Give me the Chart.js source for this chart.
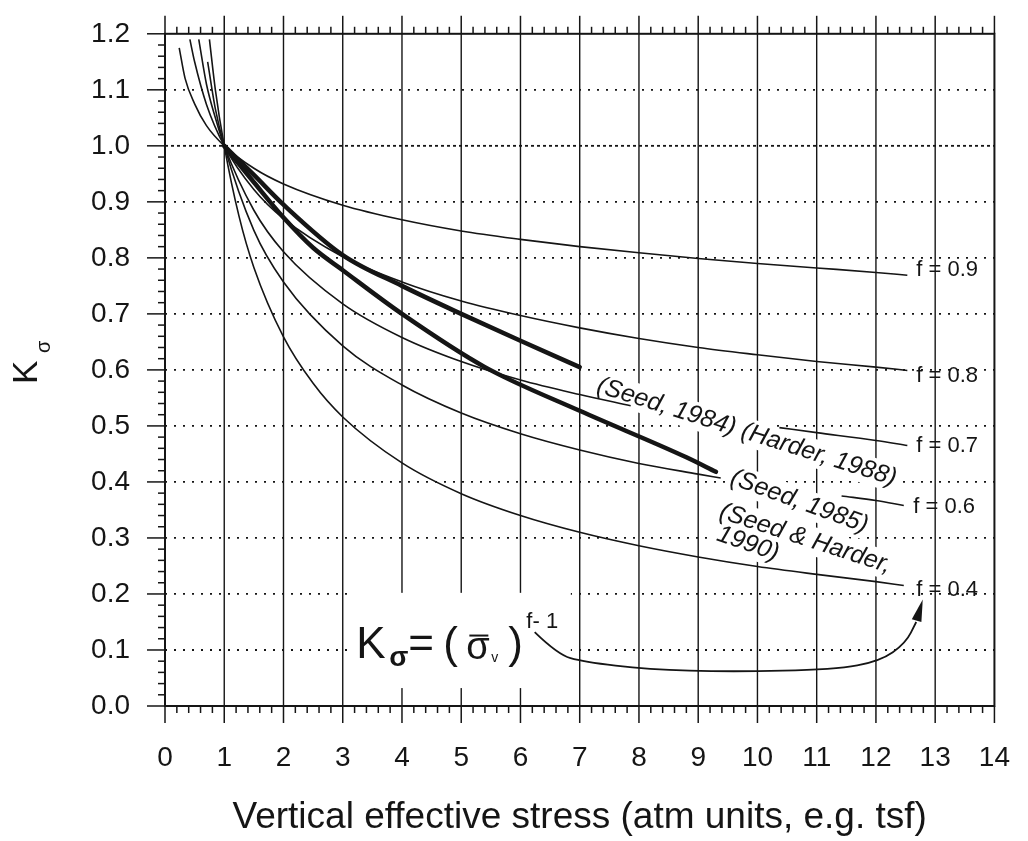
<!DOCTYPE html>
<html>
<head>
<meta charset="utf-8">
<title>K sigma vs vertical effective stress</title>
<script src="https://cdn.jsdelivr.net/npm/chart.js@4.4.1/dist/chart.umd.min.js"></script>
<style>
  html, body { margin: 0; padding: 0; background: #fff; }
  canvas { display: block; }
</style>
</head>
<body>
<canvas id="kChart" width="1028" height="841"></canvas>
<script>
// axis ticks
const stressTicks = [0, 1, 2, 3, 4, 5, 6, 7, 8, 9, 10, 11, 12, 13, 14];
const kTicks = [0, 0.1, 0.2, 0.3, 0.4, 0.5, 0.6, 0.7, 0.8, 0.9, 1.0, 1.1, 1.2];

// thin curves (null = line hidden behind a label)
const f09Stress = [0.24, 0.34, 0.5, 0.7, 1, 1.5, 2, 3, 4, 5, 6, 7, 8, 9, 10, 11, 12, 12.53];
const f09K = [1.175, 1.12, 1.075, 1.036, 1.0, 0.96, 0.932, 0.894, 0.868, 0.848, 0.833, 0.82, 0.809, 0.799, 0.79, 0.782, 0.774, 0.769];

const f08Stress = [0.42, 0.5, 0.7, 1, 1.5, 2, 3, 4, 5, 6, 7, 8, 9, 10, 11, 12, 12.53];
const f08K = [1.19, 1.15, 1.074, 1.0, 0.922, 0.87, 0.802, 0.757, 0.723, 0.697, 0.675, 0.656, 0.64, 0.627, 0.615, 0.605, 0.599];

const f07Stress = [0.57, 0.7, 0.85, 1, 1.5, 2, 3, 4, 5, 6, 7, 7.86, 9, 10.37, 11, 12, 12.53];
const f07K = [1.19, 1.11, 1.05, 1.0, 0.885, 0.811, 0.718, 0.658, 0.615, 0.582, 0.556, 0.536, null, 0.497, 0.488, 0.474, 0.465];

const f06Stress = [0.72, 0.85, 1, 1.5, 2, 3, 4, 5, 6, 7, 8, 9, 9.38, 10.4, 11.42, 12, 12.47];
const f06K = [1.15, 1.066, 1.0, 0.849, 0.757, 0.643, 0.573, 0.523, 0.486, 0.457, 0.433, 0.414, 0.407, null, 0.375, 0.367, 0.358];

const f04Stress = [0.75, 0.85, 1, 1.25, 1.5, 2, 2.5, 3, 4, 5, 6, 7, 8, 9, 10, 11, 12, 12.47];
const f04K = [1.19, 1.1, 1.0, 0.874, 0.783, 0.659, 0.576, 0.516, 0.434, 0.379, 0.34, 0.31, 0.286, 0.266, 0.249, 0.235, 0.222, 0.215];

// thick curves
const seed84Stress = [1, 1.5, 2, 3, 4, 5, 6, 7];
const seed84K = [1.0, 0.948, 0.895, 0.805, 0.75, 0.7, 0.652, 0.605];

const seed85Stress = [1, 1.5, 2, 2.5, 3, 4, 5.4, 7, 8.8, 9.3];
const seed85K = [1.0, 0.935, 0.872, 0.818, 0.778, 0.7, 0.605, 0.527, 0.444, 0.418];

const FONT = '"Liberation Sans", Arial, Helvetica, sans-serif';
const INK = '#151515';

function toPoints(xs, ys) {
    return xs.map((x, i) => ({ x: x, y: ys[i] }));
}

function thinLine(xs, ys) {
    return {
        data: toPoints(xs, ys),
        borderColor: INK,
        borderWidth: 1.6,
        cubicInterpolationMode: 'monotone',
        pointRadius: 0,
        fill: false
    };
}

function thickLine(xs, ys) {
    return {
        data: toPoints(xs, ys),
        borderColor: INK,
        borderWidth: 4.5,
        cubicInterpolationMode: 'monotone',
        borderJoinStyle: 'round',
        borderCapStyle: 'round',
        pointRadius: 0,
        fill: false
    };
}

function seg(ctx, x1, y1, x2, y2) {
    ctx.beginPath();
    ctx.moveTo(x1, y1);
    ctx.lineTo(x2, y2);
    ctx.stroke();
}

// grid, frame and tick marks
const framePlugin = {
    id: 'frame',
    beforeDatasetsDraw(chart) {
        const { ctx, chartArea: a, scales: { x, y } } = chart;
        ctx.save();
        ctx.strokeStyle = INK;

        // dotted horizontal grid
        ctx.lineWidth = 1.8;
        kTicks.forEach(v => {
            if (v <= 0 || v >= 1.2) return;
            const py = y.getPixelForValue(v);
            ctx.setLineDash(v === 1.0 ? [3, 3] : [2, 7]);
            seg(ctx, a.left, py, a.right, py);
        });
        ctx.setLineDash([]);

        // solid vertical grid
        ctx.lineWidth = 1.4;
        stressTicks.forEach(v => {
            if (v <= 0 || v >= 14) return;
            const px = x.getPixelForValue(v);
            seg(ctx, px, a.top, px, a.bottom);
        });

        // tick marks: bottom and top every 0.2, left every 0.02
        ctx.lineWidth = 1.5;
        for (let i = 0; i <= 70; i++) {
            const px = x.getPixelForValue(i / 5);
            const major = i % 5 === 0;
            seg(ctx, px, a.bottom, px, a.bottom + (major ? 17 : 7));
            seg(ctx, px, a.top, px, a.top - (major ? 18 : 7));
        }
        for (let i = 0; i <= 60; i++) {
            const py = y.getPixelForValue(i / 50);
            const major = i % 5 === 0;
            seg(ctx, a.left, py, a.left - (major ? 18 : 7), py);
        }

        ctx.lineWidth = 2;
        ctx.strokeRect(a.left, a.top, a.right - a.left, a.bottom - a.top);
        ctx.restore();
    }
};

// labels, formula and arrow
const notesPlugin = {
    id: 'notes',
    tags: [
        { text: 'f = 0.9', x: 12.68, y: 0.778 },
        { text: 'f = 0.8', x: 12.68, y: 0.59 },
        { text: 'f = 0.7', x: 12.68, y: 0.464 },
        { text: 'f = 0.6', x: 12.63, y: 0.355 },
        { text: 'f = 0.4', x: 12.68, y: 0.208 }
    ],
    slants: [
        { text: '(Seed, 1984) (Harder, 1988)', x: 7.3, y: 0.573, angle: 17.5 },
        { text: '(Seed, 1985)', x: 9.56, y: 0.409, angle: 20 },
        { text: '(Seed & Harder,', x: 9.37, y: 0.348, angle: 18 },
        { text: '1990)', x: 9.33, y: 0.308, angle: 19 }
    ],
    formulaBox: { x0: 3.1, x1: 6.85, y0: 0.032, y1: 0.202 },
    formulaAt: { x: 3.23, y: 0.0865 },
    arrow: [[6.24, 0.132], [6.63, 0.092], [7.06, 0.079], [8.15, 0.065], [9.56, 0.061],
            [11.3, 0.065], [12.07, 0.08], [12.5, 0.112], [12.68, 0.15]],
    arrowTip: [12.79, 0.19],

    slantText(ctx, chart, n, background) {
        const px = chart.scales.x.getPixelForValue(n.x);
        const py = chart.scales.y.getPixelForValue(n.y);
        ctx.save();
        ctx.translate(px, py);
        ctx.rotate(n.angle * Math.PI / 180);
        ctx.font = 'italic 25px ' + FONT;
        ctx.textAlign = 'left';
        ctx.textBaseline = 'middle';
        if (background) {
            const w = ctx.measureText(n.text).width;
            ctx.fillStyle = '#fff';
            ctx.fillRect(-3, -14, w + 6, 28);
        } else {
            ctx.fillStyle = INK;
            ctx.fillText(n.text, 0, 0);
        }
        ctx.restore();
    },

    beforeDatasetsDraw(chart) {
        const { ctx, scales: { x, y } } = chart;
        ctx.save();
        this.slants.forEach(n => this.slantText(ctx, chart, n, true));
        const b = this.formulaBox;
        const bx = x.getPixelForValue(b.x0), by = y.getPixelForValue(b.y1);
        ctx.fillStyle = '#fff';
        ctx.fillRect(bx, by, x.getPixelForValue(b.x1) - bx, y.getPixelForValue(b.y0) - by);
        ctx.restore();
    },

    afterDatasetsDraw(chart) {
        const { ctx, scales: { x, y } } = chart;
        ctx.save();
        ctx.fillStyle = INK;
        ctx.strokeStyle = INK;

        // f = ... tags
        ctx.font = '22px ' + FONT;
        ctx.textAlign = 'left';
        ctx.textBaseline = 'middle';
        this.tags.forEach(t => ctx.fillText(t.text, x.getPixelForValue(t.x), y.getPixelForValue(t.y)));

        // slanted source labels
        this.slants.forEach(n => this.slantText(ctx, chart, n, false));

        // K_sigma = (sigma_v)^(f-1)
        const fx = x.getPixelForValue(this.formulaAt.x);
        const fy = y.getPixelForValue(this.formulaAt.y);
        const pieces = [
            { t: 'K', dx: 0, dy: 0, font: '44px ' + FONT },
            { t: 'σ', dx: 33, dy: 8, font: 'bold 28px ' + FONT },
            { t: '=', dx: 52, dy: 0, font: '44px ' + FONT },
            { t: '(', dx: 87, dy: 0, font: '44px ' + FONT },
            { t: 'σ', dx: 110, dy: 1, font: '38px ' + FONT },
            { t: 'v', dx: 135, dy: 4, font: '14px ' + FONT },
            { t: ')', dx: 152, dy: 0, font: '44px ' + FONT },
            { t: 'f- 1', dx: 170, dy: -30, font: '22px ' + FONT }
        ];
        ctx.textBaseline = 'alphabetic';
        pieces.forEach(p => {
            ctx.font = p.font;
            ctx.fillText(p.t, fx + p.dx, fy + p.dy);
        });
        ctx.lineWidth = 2;
        seg(ctx, fx + 113, fy - 22, fx + 132, fy - 22);

        // curved arrow to the f = 0.4 tag
        const pts = this.arrow.map(p => [x.getPixelForValue(p[0]), y.getPixelForValue(p[1])]);
        const tip = [x.getPixelForValue(this.arrowTip[0]), y.getPixelForValue(this.arrowTip[1])];
        ctx.lineWidth = 1.8;
        ctx.beginPath();
        ctx.moveTo(pts[0][0], pts[0][1]);
        for (let i = 1; i < pts.length - 1; i++) {
            const mx = (pts[i][0] + pts[i + 1][0]) / 2;
            const my = (pts[i][1] + pts[i + 1][1]) / 2;
            ctx.quadraticCurveTo(pts[i][0], pts[i][1], mx, my);
        }
        const last = pts[pts.length - 1];
        ctx.lineTo(last[0], last[1]);
        ctx.stroke();
        const ang = Math.atan2(tip[1] - last[1], tip[0] - last[0]);
        const len = 22, half = 5;
        const bxp = tip[0] - len * Math.cos(ang), byp = tip[1] - len * Math.sin(ang);
        ctx.beginPath();
        ctx.moveTo(tip[0], tip[1]);
        ctx.lineTo(bxp + half * Math.sin(ang), byp - half * Math.cos(ang));
        ctx.lineTo(bxp - half * Math.sin(ang), byp + half * Math.cos(ang));
        ctx.closePath();
        ctx.fill();

        // y axis title K sigma, rotated
        ctx.translate(25, (chart.chartArea.top + chart.chartArea.bottom) / 2);
        ctx.rotate(-Math.PI / 2);
        ctx.font = '35px ' + FONT;
        ctx.fillText('K', -14, 12);
        ctx.font = '20px ' + FONT;
        ctx.fillText('σ', 17, 25);
        ctx.restore();
    }
};

const kChart = new Chart(document.getElementById('kChart').getContext('2d'), {
    type: 'line',
    data: {
        datasets: [
            thinLine(f09Stress, f09K),
            thinLine(f08Stress, f08K),
            thinLine(f07Stress, f07K),
            thinLine(f06Stress, f06K),
            thinLine(f04Stress, f04K),
            thickLine(seed84Stress, seed84K),
            thickLine(seed85Stress, seed85K)
        ]
    },
    options: {
        responsive: false,
        animation: false,
        layout: { padding: { top: 26, right: 19, left: 0, bottom: 0 } },
        plugins: {
            legend: { display: false },
            tooltip: { enabled: false }
        },
        scales: {
            x: {
                type: 'linear',
                min: 0,
                max: 14,
                afterBuildTicks: scale => { scale.ticks = stressTicks.map(v => ({ value: v })); },
                afterFit: scale => { scale.height = 135; },
                ticks: {
                    color: INK,
                    padding: 18,
                    maxRotation: 0,
                    autoSkip: false,
                    font: { family: FONT, size: 28 }
                },
                grid: { color: 'rgba(0,0,0,0)', drawTicks: true, tickLength: 17 },
                border: { display: false },
                title: {
                    display: true,
                    text: 'Vertical effective stress (atm units, e.g. tsf)',
                    color: INK,
                    padding: { top: 0, bottom: 1 },
                    font: { family: FONT, size: 37 }
                }
            },
            y: {
                min: 0,
                max: 1.2,
                afterBuildTicks: scale => { scale.ticks = kTicks.map(v => ({ value: v })); },
                afterFit: scale => { scale.width = 165; },
                ticks: {
                    color: INK,
                    padding: 17,
                    autoSkip: false,
                    font: { family: FONT, size: 28 },
                    callback: value => value.toFixed(1)
                },
                grid: { color: 'rgba(0,0,0,0)', drawTicks: true, tickLength: 18 },
                border: { display: false }
            }
        }
    },
    plugins: [framePlugin, notesPlugin]
});
</script>
</body>
</html>
